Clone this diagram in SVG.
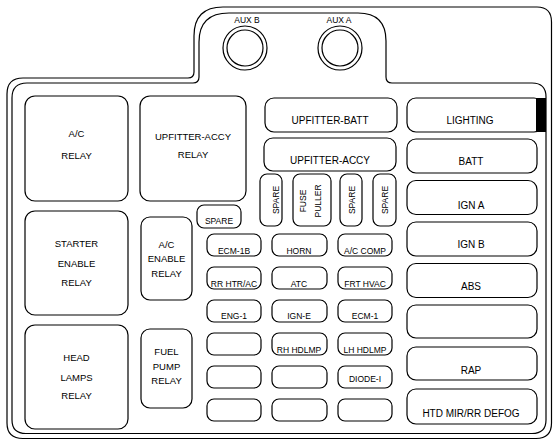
<svg xmlns="http://www.w3.org/2000/svg" width="553" height="440" viewBox="0 0 553 440">
<style>
.ln{fill:none;stroke:#000;stroke-width:1.2}
.bx{fill:#fff;stroke:#000;stroke-width:1.2}
text{font-family:"Liberation Sans",Arial,Helvetica,sans-serif;fill:#000;text-anchor:middle}
.r{font-size:9.5px}
.f{font-size:8.5px}
.b{font-size:10px}
</style>
<rect width="553" height="440" fill="#fff"/>
<g id="frame">
<path class="ln" d="M7,94 Q7,78 23,78 L188,78 Q194,78 194,72 L194,36 Q194,7 223,7 L537,7 Q551.5,7 551.5,22 L551.5,423 Q551.5,438.5 536,438.5 L23,438.5 Q7,438.5 7,423 Z"/>
<path class="ln" d="M12,98 Q12,83 27,83 L193,83 Q199,83 199,77 L199,42 Q199,13 229,13 L358,13 Q386,13 386,41 L386,77 Q386,83 392,83 L532,83 Q546,83 546,97 L546,420 Q546,433.5 532,433.5 L26,433.5 Q12,433.5 12,420 Z"/>
</g>
<g id="aux-b">
<circle class="ln" cx="245" cy="48" r="22"/>
<circle class="ln" cx="245" cy="48" r="18"/>
<text class="f" x="247" y="23">AUX  B</text>
</g>
<g id="aux-a">
<circle class="ln" cx="340" cy="48" r="22"/>
<circle class="ln" cx="340" cy="48" r="18"/>
<text class="f" x="339" y="23">AUX  A</text>
</g>
<g id="ac-relay"><rect class="bx" x="25" y="96" width="103" height="105" rx="10"/><text class="r" x="76.5" y="137">A/C</text><text class="r" x="76.5" y="159">RELAY</text></g>
<g id="upfitter-accy-relay"><rect class="bx" x="140" y="96" width="106" height="105" rx="10"/><text class="r" x="193" y="140">UPFITTER-ACCY</text><text class="r" x="193" y="158">RELAY</text></g>
<g id="starter-enable-relay"><rect class="bx" x="25" y="211" width="103" height="104" rx="10"/><text class="r" x="76.5" y="246.5">STARTER</text><text class="r" x="76.5" y="266.5">ENABLE</text><text class="r" x="76.5" y="285.5">RELAY</text></g>
<g id="ac-enable-relay"><rect class="bx" x="141" y="217" width="51" height="83" rx="9"/><text class="r" x="166.5" y="247.5">A/C</text><text class="r" x="166.5" y="261.5">ENABLE</text><text class="r" x="166.5" y="276.5">RELAY</text></g>
<g id="head-lamps-relay"><rect class="bx" x="25" y="325" width="103" height="104" rx="10"/><text class="r" x="76.5" y="360.5">HEAD</text><text class="r" x="76.5" y="380.5">LAMPS</text><text class="r" x="76.5" y="398.5">RELAY</text></g>
<g id="fuel-pump-relay"><rect class="bx" x="141" y="329" width="51" height="79" rx="9"/><text class="r" x="166.5" y="354.5">FUEL</text><text class="r" x="166.5" y="369.5">PUMP</text><text class="r" x="166.5" y="383.5">RELAY</text></g>
<g id="spare-h"><rect class="bx" x="197" y="205" width="44" height="23" rx="7"/><text class="f" x="219" y="224">SPARE</text></g>
<g id="upfitter-batt"><rect class="bx" x="265" y="98" width="132" height="34" rx="9"/><text class="b" x="330" y="123.5">UPFITTER-BATT</text></g>
<g id="upfitter-accy"><rect class="bx" x="264" y="138" width="132" height="33" rx="9"/><text class="b" x="330" y="164">UPFITTER-ACCY</text></g>
<g id="spare-v1"><rect class="bx" x="260" y="174" width="22" height="52" rx="7"/><text class="f" transform="translate(278.5,200) rotate(-90)">SPARE</text></g>
<g id="fuse-puller"><rect class="bx" x="293" y="174" width="38" height="52" rx="7"/><text class="f" transform="translate(306,201) rotate(-90)">FUSE</text><text class="f" transform="translate(321,201) rotate(-90)">PULLER</text></g>
<g id="spare-v2"><rect class="bx" x="340" y="174" width="22" height="52" rx="7"/><text class="f" transform="translate(355,200) rotate(-90)">SPARE</text></g>
<g id="spare-v3"><rect class="bx" x="373" y="174" width="23" height="52" rx="7"/><text class="f" transform="translate(388,200) rotate(-90)">SPARE</text></g>
<g id="ecm-1b"><rect class="bx" x="207" y="234" width="54" height="22" rx="7"/><text class="f" x="234" y="253.5">ECM-1B</text></g>
<g id="horn"><rect class="bx" x="272" y="234" width="55" height="22" rx="7"/><text class="f" x="299" y="253.5">HORN</text></g>
<g id="ac-comp"><rect class="bx" x="338" y="234" width="54" height="22" rx="7"/><text class="f" x="365" y="253.5">A/C COMP</text></g>
<g id="rr-htr-ac"><rect class="bx" x="207" y="267" width="54" height="22" rx="7"/><text class="f" x="234" y="286.5">RR HTR/AC</text></g>
<g id="atc"><rect class="bx" x="272" y="267" width="55" height="22" rx="7"/><text class="f" x="299" y="286.5">ATC</text></g>
<g id="frt-hvac"><rect class="bx" x="338" y="267" width="54" height="22" rx="7"/><text class="f" x="365" y="286.5">FRT HVAC</text></g>
<g id="eng-1"><rect class="bx" x="207" y="300" width="54" height="22" rx="7"/><text class="f" x="234" y="318.5">ENG-1</text></g>
<g id="ign-e"><rect class="bx" x="272" y="300" width="55" height="22" rx="7"/><text class="f" x="299" y="319">IGN-E</text></g>
<g id="ecm-1"><rect class="bx" x="338" y="300" width="54" height="22" rx="7"/><text class="f" x="365" y="319">ECM-1</text></g>
<g id="blank-a4"><rect class="bx" x="207" y="333" width="54" height="22" rx="7"/></g>
<g id="rh-hdlmp"><rect class="bx" x="272" y="333" width="55" height="22" rx="7"/><text class="f" x="299" y="352.5">RH HDLMP</text></g>
<g id="lh-hdlmp"><rect class="bx" x="338" y="333" width="54" height="22" rx="7"/><text class="f" x="365" y="352.5">LH HDLMP</text></g>
<g id="blank-a5"><rect class="bx" x="207" y="366" width="54" height="22" rx="7"/></g>
<g id="blank-b5"><rect class="bx" x="272" y="366" width="55" height="22" rx="7"/></g>
<g id="diode-i"><rect class="bx" x="338" y="366" width="54" height="22" rx="7"/><text class="f" x="365" y="382">DIODE-I</text></g>
<g id="blank-a6"><rect class="bx" x="207" y="399" width="54" height="22" rx="7"/></g>
<g id="blank-b6"><rect class="bx" x="272" y="399" width="55" height="22" rx="7"/></g>
<g id="blank-c6"><rect class="bx" x="338" y="399" width="54" height="22" rx="7"/></g>
<g id="lighting"><rect class="bx" x="407" y="98" width="136" height="34" rx="9"/><rect x="536" y="98" width="10" height="34" fill="#000"/><text class="b" x="470" y="123.5">LIGHTING</text></g>
<g id="batt"><rect class="bx" x="407" y="139" width="130" height="34" rx="9"/><text class="b" x="471" y="164.5">BATT</text></g>
<g id="ign-a"><rect class="bx" x="407" y="180.5" width="130" height="34" rx="9"/><text class="b" x="471" y="208.5">IGN A</text></g>
<g id="ign-b"><rect class="bx" x="407" y="222" width="130" height="34" rx="9"/><text class="b" x="471" y="247.5">IGN B</text></g>
<g id="abs"><rect class="bx" x="407" y="263.5" width="130" height="34" rx="9"/><text class="b" x="471" y="289.5">ABS</text></g>
<g id="blank-r6"><rect class="bx" x="407" y="305" width="130" height="33" rx="9"/></g>
<g id="rap"><rect class="bx" x="407" y="347" width="130" height="33" rx="9"/><text class="b" x="471" y="373.5">RAP</text></g>
<g id="htd-mir-rr-defog"><rect class="bx" x="407" y="389" width="130" height="35" rx="9"/><text class="b" x="471" y="416.5">HTD MIR/RR DEFOG</text></g>
<g id="connectors"/>
</svg>
